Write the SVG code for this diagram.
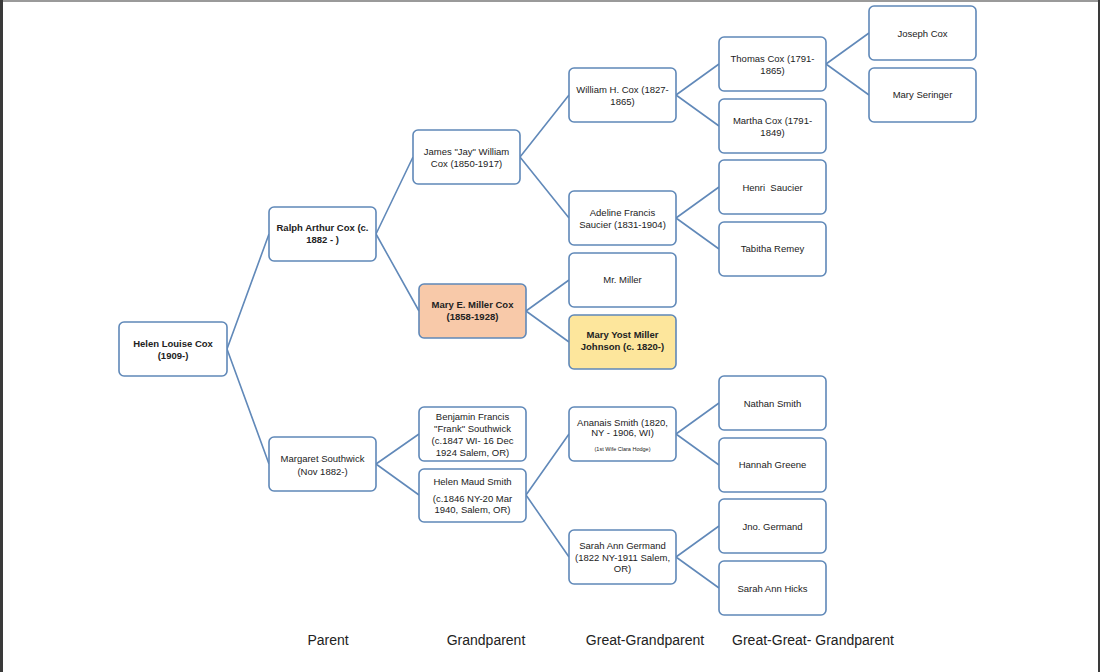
<svg xmlns="http://www.w3.org/2000/svg" width="1100" height="672" viewBox="0 0 1100 672">
<style>
.n rect{fill:#fff;stroke:#5f88b8;stroke-width:1.6}
.n text{font-family:"Liberation Sans",Arial,sans-serif;font-size:9.5px;fill:#222;text-anchor:middle}
.b text{font-weight:bold}
.s{font-size:5.5px !important}
.c path{fill:none;stroke:#6189b9;stroke-width:1.6}
.lbl{font-family:"Liberation Sans",Arial,sans-serif;font-size:14px;fill:#222;text-anchor:middle}
</style>
<rect x="0" y="0" width="1100" height="672" fill="#fff"/>
<rect x="0" y="0" width="1100" height="2" fill="#9a9a9a"/>
<rect x="0" y="0" width="3" height="672" fill="#3a3a3a"/>
<rect x="1098" y="0" width="2" height="672" fill="#3a3a3a"/>
<g id="connectors" class="c">
<path d="M227,349 L269,234 M227,349 L269,464"/>
<path d="M376,234 L413,157 M376,234 L419,311"/>
<path d="M376,464 L419,434 M376,464 L419,495"/>
<path d="M520,157 L569,95 M520,157 L569,218"/>
<path d="M526,311 L569,280 M526,311 L569,342"/>
<path d="M526,495 L569,434 M526,495 L569,557"/>
<path d="M676,95 L719,64 M676,95 L719,126"/>
<path d="M676,218 L719,187 M676,218 L719,249"/>
<path d="M676,434 L719,403 M676,434 L719,465"/>
<path d="M676,557 L719,526 M676,557 L719,588"/>
<path d="M826,64 L869,33 M826,64 L869,95"/>
</g>
<g id="helen-louise-cox" class="n b"><rect x="119" y="322" width="108" height="54" rx="5"/><text x="173" y="346.5">Helen Louise Cox</text><text x="173" y="358.5">(1909-)</text></g>
<g id="ralph-arthur-cox" class="n b"><rect x="269" y="207" width="107" height="54" rx="5"/><text x="322.5" y="230.5">Ralph Arthur Cox (c.</text><text x="322.5" y="242.5">1882 - )</text></g>
<g id="margaret-southwick" class="n"><rect x="269" y="437" width="107" height="54" rx="5"/><text x="322.5" y="461.5">Margaret Southwick</text><text x="322.5" y="474.5">(Nov 1882-)</text></g>
<g id="james-cox" class="n"><rect x="413" y="130" width="107" height="54" rx="5"/><text x="466.5" y="154.5">James "Jay" William</text><text x="466.5" y="166.5">Cox (1850-1917)</text></g>
<g id="mary-e-miller-cox" class="n b"><rect x="419" y="284" width="107" height="54" rx="5" style="fill:#f8c9a9"/><text x="472.5" y="307.5">Mary E. Miller Cox</text><text x="472.5" y="319.5">(1858-1928)</text></g>
<g id="benjamin-southwick" class="n"><rect x="419" y="407" width="107" height="54" rx="5"/><text x="472.5" y="419.5">Benjamin Francis</text><text x="472.5" y="431.5">"Frank" Southwick</text><text x="472.5" y="443.5">(c.1847 WI- 16 Dec</text><text x="472.5" y="455.5">1924 Salem, OR)</text></g>
<g id="helen-maud-smith" class="n"><rect x="419" y="469" width="107" height="53" rx="5"/><text x="472.5" y="484.5">Helen Maud Smith</text><text x="472.5" y="501.5">(c.1846 NY-20 Mar</text><text x="472.5" y="513">1940, Salem, OR)</text></g>
<g id="william-h-cox" class="n"><rect x="569" y="68" width="107" height="54" rx="5"/><text x="622.5" y="92.5">William H. Cox (1827-</text><text x="622.5" y="104.5">1865)</text></g>
<g id="adeline-saucier" class="n"><rect x="569" y="191" width="107" height="54" rx="5"/><text x="622.5" y="215.5">Adeline Francis</text><text x="622.5" y="227.5">Saucier (1831-1904)</text></g>
<g id="mr-miller" class="n"><rect x="569" y="253" width="107" height="54" rx="5"/><text x="622.5" y="282.5">Mr. Miller</text></g>
<g id="mary-yost-miller-johnson" class="n b"><rect x="569" y="315" width="107" height="54" rx="5" style="fill:#fde69c"/><text x="622.5" y="337.5">Mary Yost Miller</text><text x="622.5" y="350">Johnson (c. 1820-)</text></g>
<g id="ananais-smith" class="n"><rect x="569" y="407" width="107" height="54" rx="5"/><text x="622.5" y="426">Ananais Smith (1820,</text><text x="622.5" y="436">NY - 1906, WI)</text><text class="s" x="622.5" y="450.5">(1st Wife Clara Hodge)</text></g>
<g id="sarah-ann-germand" class="n"><rect x="569" y="530" width="107" height="54" rx="5"/><text x="622.5" y="548.5">Sarah Ann Germand</text><text x="622.5" y="560.5">(1822 NY-1911 Salem,</text><text x="622.5" y="572">OR)</text></g>
<g id="thomas-cox" class="n"><rect x="719" y="37" width="107" height="54" rx="5"/><text x="772.5" y="61.5">Thomas Cox (1791-</text><text x="772.5" y="73.5">1865)</text></g>
<g id="martha-cox" class="n"><rect x="719" y="99" width="107" height="54" rx="5"/><text x="772.5" y="123.5">Martha Cox (1791-</text><text x="772.5" y="135.5">1849)</text></g>
<g id="henri-saucier" class="n"><rect x="719" y="160" width="107" height="54" rx="5"/><text x="772.5" y="190.5" xml:space="preserve">Henri  Saucier</text></g>
<g id="tabitha-remey" class="n"><rect x="719" y="222" width="107" height="54" rx="5"/><text x="772.5" y="251.5">Tabitha Remey</text></g>
<g id="nathan-smith" class="n"><rect x="719" y="376" width="107" height="54" rx="5"/><text x="772.5" y="406.5">Nathan Smith</text></g>
<g id="hannah-greene" class="n"><rect x="719" y="438" width="107" height="54" rx="5"/><text x="772.5" y="467.5">Hannah Greene</text></g>
<g id="jno-germand" class="n"><rect x="719" y="499" width="107" height="54" rx="5"/><text x="772.5" y="529.5">Jno. Germand</text></g>
<g id="sarah-ann-hicks" class="n"><rect x="719" y="561" width="107" height="54" rx="5"/><text x="772.5" y="591.5">Sarah Ann Hicks</text></g>
<g id="joseph-cox" class="n"><rect x="869" y="6" width="107" height="54" rx="5"/><text x="922.5" y="36.5">Joseph Cox</text></g>
<g id="mary-seringer" class="n"><rect x="869" y="68" width="107" height="54" rx="5"/><text x="922.5" y="98">Mary Seringer</text></g>
<g id="labels">
<text class="lbl" x="328" y="645">Parent</text>
<text class="lbl" x="486" y="645">Grandparent</text>
<text class="lbl" x="645" y="645">Great-Grandparent</text>
<text class="lbl" x="813" y="645">Great-Great- Grandparent</text>
</g>
</svg>
